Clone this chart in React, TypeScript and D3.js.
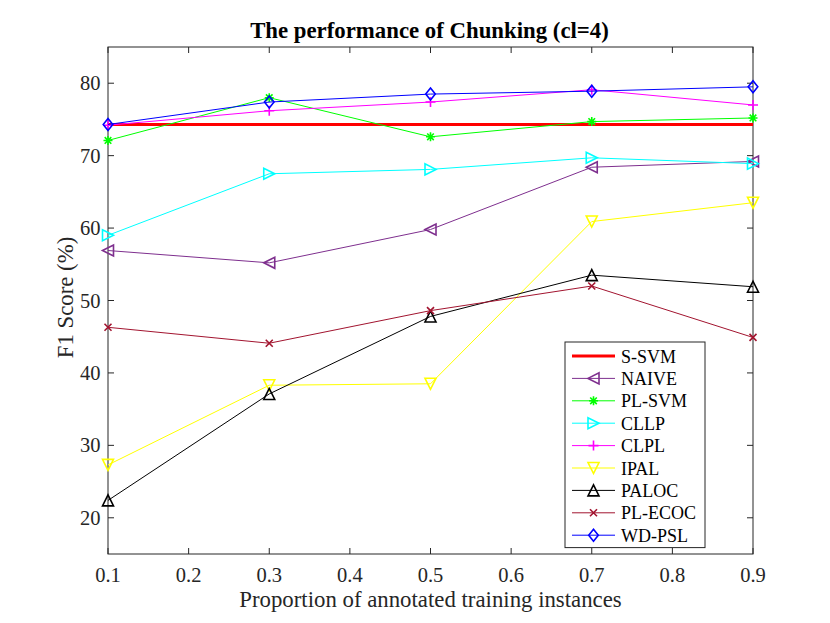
import React, { useEffect, useRef } from 'react';
import * as d3 from 'd3';

const proportions = [0.1, 0.3, 0.5, 0.7, 0.9];
const xTicks = [0.1, 0.2, 0.3, 0.4, 0.5, 0.6, 0.7, 0.8, 0.9];
const yTicks = [20, 30, 40, 50, 60, 70, 80];

const sSvm = [74.3, 74.3, 74.3, 74.3, 74.3];
const naive = [56.9, 55.2, 59.8, 68.4, 69.2];
const plSvm = [72.1, 78.0, 72.6, 74.7, 75.2];
const cllp = [59.0, 67.5, 68.1, 69.7, 68.9];
const clpl = [74.2, 76.2, 77.4, 79.1, 77.0];
const ipal = [27.3, 38.3, 38.5, 60.9, 63.5];
const paloc = [22.4, 37.1, 47.8, 53.5, 51.9];
const plEcoc = [46.3, 44.1, 48.6, 52.0, 44.9];
const wdPsl = [74.3, 77.4, 78.5, 78.9, 79.5];

type Marker = 'none' | 'left' | 'right' | 'down' | 'up' | 'star' | 'plus' | 'cross' | 'diamond';

interface Series {
  name: string;
  values: number[];
  color: string;
  marker: Marker;
  width: number;
}

const series: Series[] = [
  { name: 'S-SVM', values: sSvm, color: '#ff0000', marker: 'none', width: 3 },
  { name: 'NAIVE', values: naive, color: '#7e2f8e', marker: 'left', width: 1 },
  { name: 'PL-SVM', values: plSvm, color: '#00ff00', marker: 'star', width: 1 },
  { name: 'CLLP', values: cllp, color: '#00ffff', marker: 'right', width: 1 },
  { name: 'CLPL', values: clpl, color: '#ff00ff', marker: 'plus', width: 1 },
  { name: 'IPAL', values: ipal, color: '#ffff00', marker: 'down', width: 1 },
  { name: 'PALOC', values: paloc, color: '#000000', marker: 'up', width: 1 },
  { name: 'PL-ECOC', values: plEcoc, color: '#a2142f', marker: 'cross', width: 1 },
  { name: 'WD-PSL', values: wdPsl, color: '#0000ff', marker: 'diamond', width: 1 },
];

function markerPath(m: Marker): string {
  const s = 5.5;
  switch (m) {
    case 'left': return `M${-s},0L${s},${-s}L${s},${s}Z`;
    case 'right': return `M${s},0L${-s},${-s}L${-s},${s}Z`;
    case 'down': return `M0,${s}L${-s},${-s}L${s},${-s}Z`;
    case 'up': return `M0,${-s}L${-s},${s}L${s},${s}Z`;
    case 'plus': return 'M-5,0H5M0,-5V5';
    case 'cross': return 'M-3.5,-3.5L3.5,3.5M-3.5,3.5L3.5,-3.5';
    case 'star': return 'M-4.5,0H4.5M0,-4.5V4.5M-3.3,-3.3L3.3,3.3M-3.3,3.3L3.3,-3.3';
    case 'diamond': return 'M0,-6L4.8,0L0,6L-4.8,0Z';
    default: return '';
  }
}

export default function App() {
  const svgRef = useRef<SVGSVGElement>(null);

  useEffect(() => {
    if (!svgRef.current) return;
    const svg = d3.select(svgRef.current);
    svg.selectAll('*').remove();

    const left = 108, right = 753, top = 47, bottom = 554;
    const font = '"Liberation Serif", "Times New Roman", serif';
    const axisColor = '#262626';

    const x = d3.scaleLinear().domain([0.1, 0.9]).range([left, right]);
    const y = d3.scaleLinear().domain([15, 85]).range([bottom, top]);

    svg.append('rect').attr('width', 830).attr('height', 623).attr('fill', '#ffffff');

    // Box and ticks
    const axes = svg.append('g').attr('stroke', axisColor).attr('stroke-width', 1).attr('fill', 'none');
    axes.append('rect')
      .attr('x', left).attr('y', top)
      .attr('width', right - left).attr('height', bottom - top);

    xTicks.forEach(t => {
      axes.append('line').attr('x1', x(t)).attr('x2', x(t)).attr('y1', bottom).attr('y2', bottom - 6);
      axes.append('line').attr('x1', x(t)).attr('x2', x(t)).attr('y1', top).attr('y2', top + 6);
    });
    yTicks.forEach(t => {
      axes.append('line').attr('x1', left).attr('x2', left + 6).attr('y1', y(t)).attr('y2', y(t));
      axes.append('line').attr('x1', right).attr('x2', right - 6).attr('y1', y(t)).attr('y2', y(t));
    });

    const labels = svg.append('g').attr('font-family', font).attr('fill', axisColor).attr('font-size', 20.5);
    xTicks.forEach(t => {
      labels.append('text')
        .attr('x', x(t)).attr('y', bottom + 28)
        .attr('text-anchor', 'middle')
        .text(d3.format('.1f')(t));
    });
    yTicks.forEach(t => {
      labels.append('text')
        .attr('x', left - 7.5).attr('y', y(t) + 7)
        .attr('text-anchor', 'end')
        .text(String(t));
    });

    labels.append('text')
      .attr('x', (left + right) / 2).attr('y', 607)
      .attr('text-anchor', 'middle')
      .attr('font-size', 22.8)
      .text('Proportion of annotated training instances');

    labels.append('text')
      .attr('transform', `translate(73,${(top + bottom) / 2 - 3}) rotate(-90)`)
      .attr('text-anchor', 'middle')
      .attr('font-size', 22.8)
      .text('F1 Score (%)');

    svg.append('text')
      .attr('x', (left + right) / 2 - 1).attr('y', 38)
      .attr('text-anchor', 'middle')
      .attr('font-family', font)
      .attr('font-weight', 'bold')
      .attr('font-size', 22.8)
      .attr('fill', '#000000')
      .text('The performance of Chunking (cl=4)');

    // Series
    const line = d3.line<number>()
      .x((_, i) => x(proportions[i]))
      .y(d => y(d));

    series.forEach(s => {
      const g = svg.append('g');
      g.append('path')
        .datum(s.values)
        .attr('fill', 'none')
        .attr('stroke', s.color)
        .attr('stroke-width', s.width)
        .attr('d', line);
      if (s.marker !== 'none') {
        g.selectAll('path.mk')
          .data(s.values)
          .join('path')
          .attr('class', 'mk')
          .attr('transform', (d, i) => `translate(${x(proportions[i])},${y(d)})`)
          .attr('d', markerPath(s.marker))
          .attr('fill', 'none')
          .attr('stroke', s.color)
          .attr('stroke-width', 1.6);
      }
    });

    // Legend
    const lx = 565, ly = 342, lw = 140, rowH = 22.4;
    const legend = svg.append('g');
    legend.append('rect')
      .attr('x', lx).attr('y', ly)
      .attr('width', lw).attr('height', rowH * series.length + 4)
      .attr('fill', '#ffffff')
      .attr('stroke', axisColor)
      .attr('stroke-width', 1);

    series.forEach((s, i) => {
      const cy = ly + 14 + i * rowH;
      legend.append('line')
        .attr('x1', lx + 7).attr('x2', lx + 50)
        .attr('y1', cy).attr('y2', cy)
        .attr('stroke', s.color)
        .attr('stroke-width', s.width);
      if (s.marker !== 'none') {
        legend.append('path')
          .attr('transform', `translate(${lx + 28.5},${cy})`)
          .attr('d', markerPath(s.marker))
          .attr('fill', 'none')
          .attr('stroke', s.color)
          .attr('stroke-width', 1.6);
      }
      legend.append('text')
        .attr('x', lx + 56).attr('y', cy + 6.5)
        .attr('font-family', font)
        .attr('font-size', 18)
        .attr('fill', '#000000')
        .text(s.name);
    });
  }, []);

  return (
    <svg
      ref={svgRef}
      width={830}
      height={623}
      style={{ position: 'absolute', left: 0, top: 0, display: 'block' }}
    />
  );
}
